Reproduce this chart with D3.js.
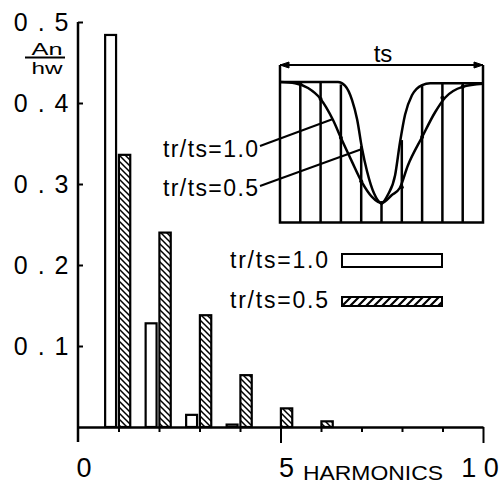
<!DOCTYPE html>
<html>
<head>
<meta charset="utf-8">
<script src="https://cdn.jsdelivr.net/npm/d3@7"></script>
<style>
body { margin: 0; background: #fff; }
svg text { font-family: "Liberation Sans", Arial, sans-serif; fill: #000; }
</style>
</head>
<body>
<div id="chart"></div>
<script>
// harmonic amplitudes An/hw
var harmonics = [1, 2, 3, 4, 5, 6];
var amp10 = [0.484, 0.128, 0.015, 0.003, 0, 0];      // tr/ts = 1.0
var amp05 = [0.336, 0.240, 0.138, 0.064, 0.023, 0.007]; // tr/ts = 0.5
var yTicks = [0.1, 0.2, 0.3, 0.4, 0.5];
var yTickLabels = ["0 . 1", "0 . 2", "0 . 3", "0 . 4", "0 . 5"];
var xTicks = [1, 2, 3, 4, 5, 6, 7, 8, 9, 10];
var xLabelValues = [0, 5, 10];
var xLabels = ["0", "5", "1 0"];

// inset waveforms: t = fraction of ts, a = level (0 = dip, 1 = top)
var waveT10 = [0, 0.074, 0.138, 0.20, 0.26, 0.305, 0.355, 0.404, 0.453, 0.5, 0.551, 0.59, 0.63, 0.70, 0.764, 0.813, 0.90, 1];
var waveA10 = [1, 0.99, 0.95, 0.86, 0.69, 0.52, 0.34, 0.17, 0.05, 0, 0.066, 0.124, 0.31, 0.545, 0.75, 0.87, 0.96, 0.985];
var waveT05 = [0, 0.286, 0.32, 0.355, 0.38, 0.404, 0.429, 0.463, 0.5, 0.532, 0.567, 0.591, 0.616, 0.65, 0.70, 0.74, 1];
var waveA05 = [1, 1, 0.97, 0.85, 0.69, 0.45, 0.26, 0.08, 0, 0.07, 0.23, 0.50, 0.73, 0.89, 0.975, 0.99, 0.99];
// sampling lines and where they stop
var sampleT = [0.1, 0.2, 0.3, 0.4, 0.5, 0.6, 0.7, 0.8, 0.9];
var sampleTop = [1, 1, 0.98, 0.47, 0, 0.52, 0.975, 0.99, 0.99];
var sampleA10 = [0.985, 0.86, 0.54, 0.18, 0, 0.13, 0.545, 0.87, 0.96];

var svg = d3.select("#chart").append("svg")
    .attr("width", 502).attr("height", 495);

var defs = svg.append("defs");
defs.append("pattern").attr("id", "hatchBar")
    .attr("patternUnits", "userSpaceOnUse").attr("width", 6).attr("height", 6)
    .append("path").attr("d", "M0,0L6,6M-1,5L1,7M5,-1L7,1")
    .attr("stroke", "#000").attr("stroke-width", 1.5);
defs.append("pattern").attr("id", "hatchLegend")
    .attr("patternUnits", "userSpaceOnUse").attr("width", 8).attr("height", 8)
    .append("path").attr("d", "M0,8L8,0M-1,1L1,-1M7,9L9,7")
    .attr("stroke", "#000").attr("stroke-width", 2.2);

var x = d3.scaleLinear().domain([0, 10]).range([78, 483]);
var y = d3.scaleLinear().domain([0, 0.5]).range([427, 22]);

// bars
var data10 = harmonics.map((h, i) => ({h: h, v: amp10[i]})).filter(d => d.v > 0);
var data05 = harmonics.map((h, i) => ({h: h, v: amp05[i]})).filter(d => d.v > 0);

svg.append("g").selectAll("rect")
    .data(data10).enter().append("rect")
    .attr("x", d => x(d.h - 0.33))
    .attr("width", d => x(d.h - 0.06) - x(d.h - 0.33))
    .attr("y", d => y(d.v))
    .attr("height", d => y(0) - y(d.v))
    .attr("fill", "#fff").attr("stroke", "#000").attr("stroke-width", 2.2);

svg.append("g").selectAll("rect")
    .data(data05).enter().append("rect")
    .attr("x", d => x(d.h + 0.01))
    .attr("width", d => x(d.h + 0.29) - x(d.h + 0.01))
    .attr("y", d => y(d.v))
    .attr("height", d => y(0) - y(d.v))
    .attr("fill", "url(#hatchBar)").attr("stroke", "#000").attr("stroke-width", 2.2);

// x axis
var xAxis = svg.append("g")
    .attr("transform", `translate(0,${y(0)})`)
    .call(d3.axisBottom(x).tickValues(xTicks).tickSize(5).tickSizeOuter(0).tickFormat(""));
xAxis.select(".domain").attr("stroke-width", 2.5);
xAxis.selectAll(".tick line").attr("stroke-width", 2)
    .attr("y2", d => d % 5 == 0 ? 16 : 5);

svg.append("g").selectAll("text")
    .data(xLabelValues).enter().append("text")
    .attr("x", (d, i) => x(d) + (d == 10 ? -3 : 6))
    .attr("y", 477)
    .attr("text-anchor", "middle")
    .attr("font-size", 27)
    .text((d, i) => xLabels[i]);

svg.append("text")
    .attr("x", 303).attr("y", 480)
    .attr("font-size", 21)
    .attr("textLength", 140).attr("lengthAdjust", "spacingAndGlyphs")
    .text("HARMONICS");

// y axis
var yAxis = svg.append("g")
    .attr("transform", `translate(${x(0)},0)`)
    .call(d3.axisLeft(y).tickValues(yTicks).tickSize(-5).tickPadding(8)
        .tickFormat((d, i) => yTickLabels[i]));
yAxis.select(".domain").remove();
yAxis.selectAll(".tick line").attr("stroke-width", 2);
yAxis.selectAll(".tick text")
    .attr("font-size", 25)
    .attr("font-family", "Liberation Sans, Arial, sans-serif")
    .attr("letter-spacing", 1.5)
    .attr("fill", "#000");
svg.append("line")
    .attr("x1", x(0)).attr("x2", x(0))
    .attr("y1", y(0.5)).attr("y2", y(0) + 15)
    .attr("stroke", "#000").attr("stroke-width", 2.5);

// An / hw
svg.append("text").attr("x", 47).attr("y", 55)
    .attr("text-anchor", "middle").attr("font-size", 17)
    .attr("textLength", 31).attr("lengthAdjust", "spacingAndGlyphs").text("An");
svg.append("line").attr("x1", 25).attr("x2", 65).attr("y1", 57.5).attr("y2", 57.5)
    .attr("stroke", "#000").attr("stroke-width", 2);
svg.append("text").attr("x", 47).attr("y", 74)
    .attr("text-anchor", "middle").attr("font-size", 17)
    .attr("textLength", 31).attr("lengthAdjust", "spacingAndGlyphs").text("hw");

// inset
var ix = d3.scaleLinear().domain([0, 1]).range([280, 483]);
var iy = d3.scaleLinear().domain([0, 1]).range([203, 82]);
var inset = svg.append("g").attr("fill", "none").attr("stroke", "#000");
var boxBottom = 222.5;

inset.append("path")
    .attr("d", `M${ix(0)},65V${boxBottom}H${ix(1)}V65`)
    .attr("stroke-width", 2.5);
inset.append("line").attr("x1", ix(0)).attr("x2", ix(1)).attr("y1", 65).attr("y2", 65)
    .attr("stroke-width", 2);
// arrowheads on ts dimension
inset.append("path")
    .attr("d", `M${ix(0)},65l9,-3v6z M${ix(1)},65l-9,-3v6z`)
    .attr("fill", "#000").attr("stroke-width", 1);

inset.selectAll("line.sample")
    .data(sampleT).enter().append("line")
    .attr("x1", d => ix(d)).attr("x2", d => ix(d))
    .attr("y1", boxBottom)
    .attr("y2", (d, i) => iy(sampleTop[i]))
    .attr("stroke-width", 2.5);

var waveLine = d3.line()
    .x(d => ix(d[0])).y(d => iy(d[1]))
    .curve(d3.curveMonotoneX);
inset.append("path")
    .attr("d", waveLine(waveT10.map((t, i) => [t, waveA10[i]])))
    .attr("stroke-width", 2.5);
inset.append("path")
    .attr("d", waveLine(waveT05.map((t, i) => [t, waveA05[i]])))
    .attr("stroke-width", 2.5);

inset.selectAll("circle")
    .data(sampleT).enter().append("circle")
    .attr("cx", d => ix(d))
    .attr("cy", (d, i) => iy(sampleA10[i]))
    .attr("r", 2).attr("fill", "#000").attr("stroke", "none");

svg.append("text").attr("x", 383).attr("y", 62)
    .attr("text-anchor", "middle").attr("font-size", 24).text("ts");

// inset labels and leaders
svg.append("text").attr("x", 163).attr("y", 157)
    .attr("font-size", 23)
    .attr("textLength", 95).attr("lengthAdjust", "spacing").text("tr/ts=1.0");
svg.append("text").attr("x", 163).attr("y", 196)
    .attr("font-size", 23)
    .attr("textLength", 95).attr("lengthAdjust", "spacing").text("tr/ts=0.5");
svg.append("line").attr("x1", 260).attr("y1", 146).attr("x2", 333).attr("y2", 119)
    .attr("stroke", "#000").attr("stroke-width", 2);
svg.append("line").attr("x1", 260).attr("y1", 186).attr("x2", 362).attr("y2", 149)
    .attr("stroke", "#000").attr("stroke-width", 2);

// legend
var legendNames = ["tr/ts=1.0", "tr/ts=0.5"];
var legendFills = ["#fff", "url(#hatchLegend)"];
var legend = svg.append("g");
legend.selectAll("text")
    .data(legendNames).enter().append("text")
    .attr("x", 230).attr("y", (d, i) => 268 + i * 40)
    .attr("font-size", 23)
    .attr("textLength", 98).attr("lengthAdjust", "spacing")
    .text(d => d);
legend.selectAll("rect")
    .data(legendNames).enter().append("rect")
    .attr("x", 342).attr("width", 100)
    .attr("y", (d, i) => i == 0 ? 254 : 297)
    .attr("height", (d, i) => i == 0 ? 13 : 9)
    .attr("fill", (d, i) => legendFills[i])
    .attr("stroke", "#000").attr("stroke-width", 2);
</script>
</body>
</html>
